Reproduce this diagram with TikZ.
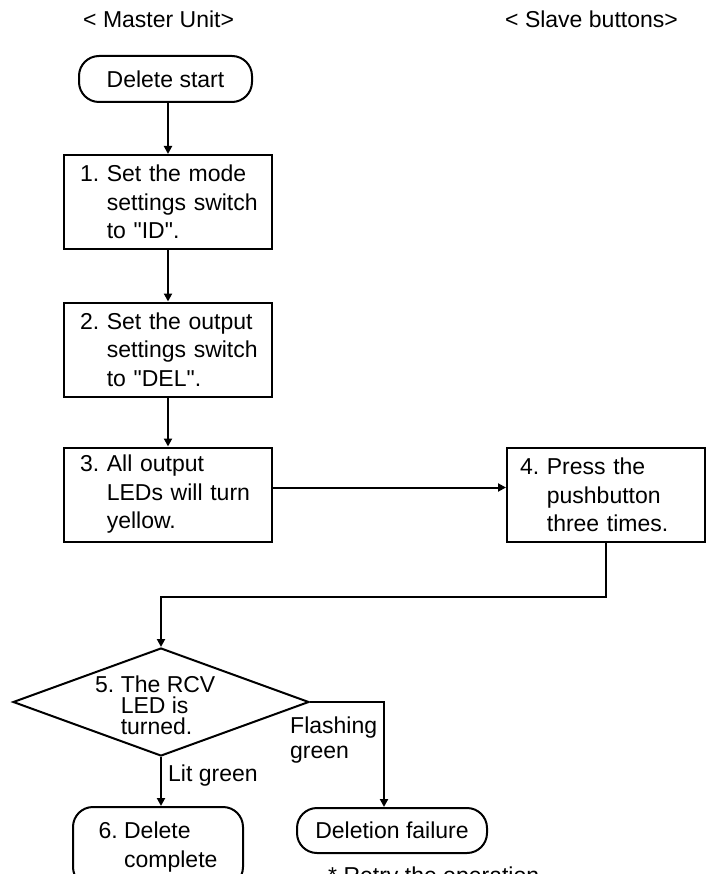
\documentclass[tikz,border=0pt]{standalone}
\usepackage{fontspec}
\newfontfamily\arialf{Liberation Sans}
\usetikzlibrary{shapes.geometric,arrows.meta}
\begin{document}
\begin{tikzpicture}[x=1pt,y=-1pt,
  every node/.style={font={\arialf\fontsize{23}{28.5}\selectfont\frenchspacing}, inner sep=0pt},
  arr/.style={line width=2pt,-{Triangle[length=8pt,width=8pt]}},
  procbox/.style={draw, line width=2pt, align=left, inner xsep=16pt, minimum height=94pt, minimum width=208pt, text width=176pt},
  termbox/.style={draw, line width=2pt, rounded corners=20pt, align=left},
  decision/.style={draw, line width=2pt, shape=diamond, aspect=2.74, minimum width=296pt, minimum height=108pt, inner sep=0pt}
]
\useasboundingbox (0,0) rectangle (707,874);

\node[anchor=north west] (hm) at (83,11) {< Master Unit>};
\node[anchor=north west] (hs) at (505,11) {< Slave buttons>};

\node[termbox, minimum width=173pt, minimum height=46pt] (start) at (165.5,79) {Delete start};

\node[procbox] (b1) at (168,202) {1. Set~the~mode\\\hphantom{1. }settings~switch\\\hphantom{1. }to~"ID".};
\node[procbox] (b2) at (168,349.5) {2. Set~the~output\\\hphantom{2. }settings~switch\\\hphantom{2. }to~"DEL".};
\node[procbox] (b3) at (168,494.5) {3. All~output\\\hphantom{3. }LEDs~will~turn\\\hphantom{3. }yellow.};
\node[procbox, minimum width=198pt, text width=172pt, inner xsep=13pt] (b4) at (606,495) {4. Press~the\\\hphantom{4. }pushbutton\\\hphantom{4. }three~times.};

\node[decision] (d5) at (161,702) {};
\node[anchor=north west, align=left, font={\arialf\fontsize{23}{21}\selectfont\frenchspacing}] (d5t) at (95,676) {5. The~RCV\\\hphantom{5. }LED~is\\\hphantom{5. }turned.};

\node[anchor=north west] (lg) at (168,765) {Lit green};
\node[anchor=north west, align=left, font={\arialf\fontsize{23}{25}\selectfont}] (fg) at (290,717) {Flashing\\green};

\node[termbox, minimum width=170pt, minimum height=80pt] (b6) at (158,847) {6. Delete\\\hphantom{6. }complete};
\node[termbox, minimum width=190pt, minimum height=45pt] (fail) at (392,830.5) {Deletion failure};
\node[anchor=north west] (note) at (328,867) {* Retry the operation};

\draw[arr] (b1.north |- start.south) -- (b1.north);
\draw[arr] (b1) -- (b2);
\draw[arr] (b2) -- (b3);
\draw[arr] ([yshift=7pt]b3.east) -- ([yshift=7pt]b3.east -| b4.west);
\draw[arr] (b4.south) -- ++(0,54) -| (d5.north);
\draw[arr] (d5.south) -- (d5.south |- b6.north);
\draw[arr] (d5.east) -| ([xshift=-8pt]fail.north);
\end{tikzpicture}
\end{document}
